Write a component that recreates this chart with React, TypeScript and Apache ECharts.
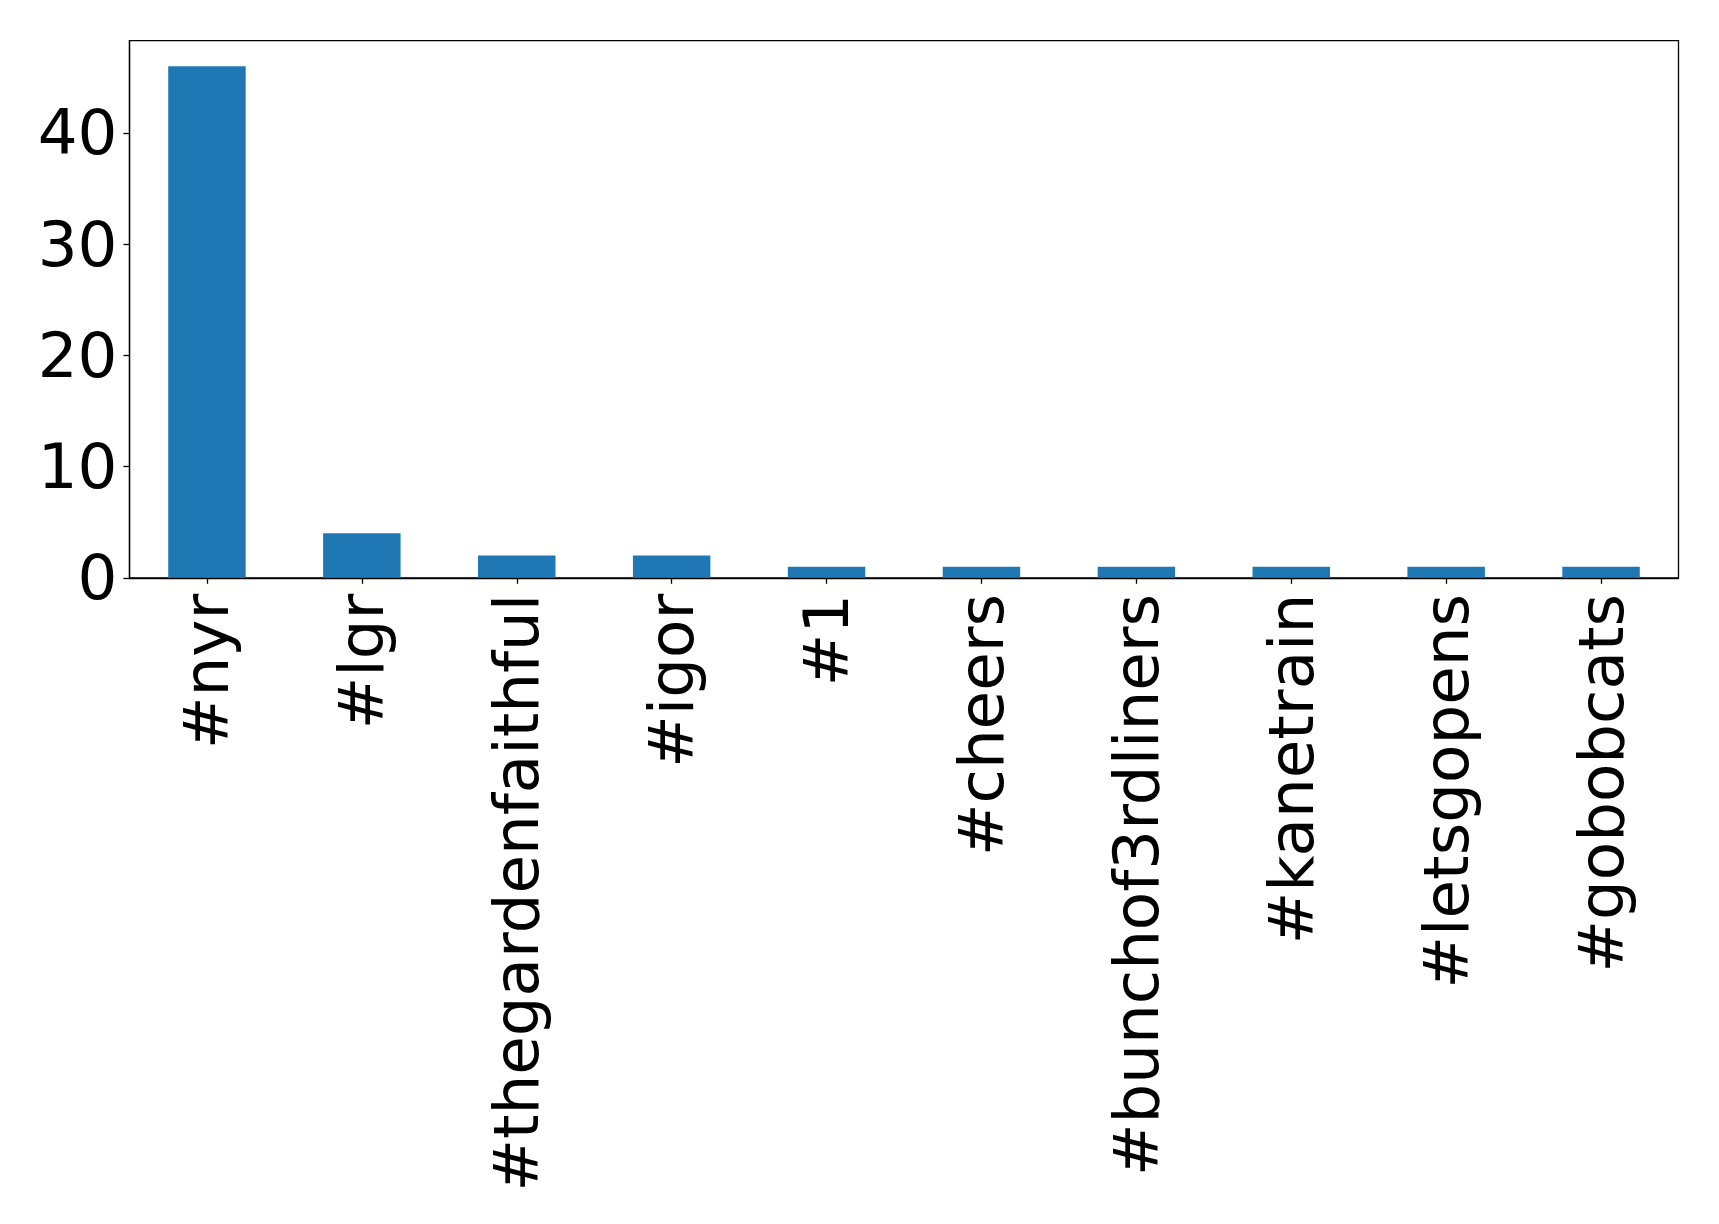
import React, { useEffect, useRef } from "react";
import * as echarts from "echarts";

const categories = ["#nyr", "#lgr", "#thegardenfaithful", "#igor", "#1", "#cheers", "#bunchof3rdliners", "#kanetrain", "#letsgopens", "#gobobcats"];
const counts = [46, 4, 2, 2, 1, 1, 1, 1, 1, 1];
const yTicks = [0, 10, 20, 30, 40];
const yMax = 48.3;

export default function App() {
  const ref = useRef<HTMLDivElement>(null);
  useEffect(() => {
    if (!ref.current) return;
    const chart = echarts.init(ref.current, null, { renderer: "svg" });
    const font = "DejaVu Sans";
    chart.setOption({
      animation: false,
      backgroundColor: "#ffffff",
      grid: {
        left: 129.5,
        right: 40.5,
        top: 40.6,
        bottom: 646.2,
        show: true,
        borderColor: "#000000",
        borderWidth: 1.3,
        backgroundColor: "transparent",
      },
      xAxis: {
        type: "category",
        data: categories,
        axisLine: { show: true, lineStyle: { color: "#000", width: 1.3 } },
        axisTick: { show: true, alignWithLabel: true, length: 6, lineStyle: { color: "#000", width: 1.3 } },
        axisLabel: {
          interval: 0,
          rotate: 90,
          margin: 16,
          fontFamily: font,
          fontSize: 62.7,
          color: "#000",
        },
        splitLine: { show: false },
      },
      yAxis: {
        type: "value",
        min: 0,
        max: yMax,
        interval: 10,
        axisLine: { show: true, lineStyle: { color: "#000", width: 1.3 } },
        axisTick: { show: true, length: 6, customValues: yTicks, lineStyle: { color: "#000", width: 1.3 } },
        axisLabel: {
          customValues: yTicks,
          margin: 12,
          fontFamily: font,
          fontSize: 62.7,
          color: "#000",
        },
        splitLine: { show: false },
      },
      series: [
        {
          type: "bar",
          data: counts,
          barWidth: "50%",
          itemStyle: { color: "#1f77b4" },
        },
      ],
    });
    return () => chart.dispose();
  }, []);
  return (
    <div
      ref={ref}
      style={{ position: "absolute", left: 0, top: 0, width: 1719, height: 1224, background: "#fff" }}
    />
  );
}
